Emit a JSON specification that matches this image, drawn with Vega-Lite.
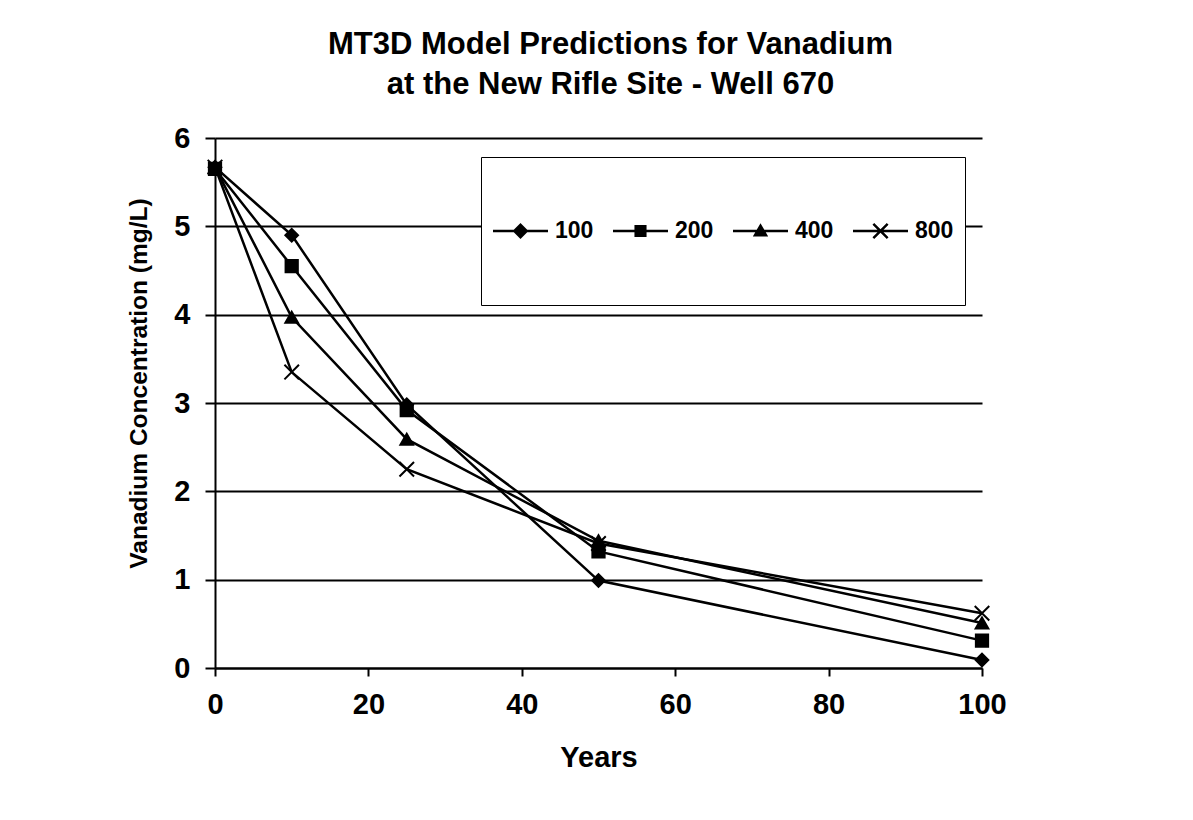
{
  "$schema": "https://vega.github.io/schema/vega-lite/v6.json",
  "width": 767,
  "height": 530,
  "autosize": {"type": "none"},
  "padding": {"left": 215, "top": 138, "right": 211, "bottom": 152},
  "background": "white",
  "title": {
    "text": ["MT3D Model Predictions for Vanadium", "at the New Rifle Site - Well 670"],
    "font": "Liberation Sans",
    "fontSize": 31,
    "fontWeight": "bold",
    "color": "black",
    "anchor": "middle",
    "frame": "group",
    "lineHeight": 40,
    "offset": 23,
    "dx": 12
  },
  "data": {
    "values": [
      {"series": "100", "years": 0, "conc": 5.67},
      {"series": "100", "years": 10, "conc": 4.9},
      {"series": "100", "years": 25, "conc": 2.98},
      {"series": "100", "years": 50, "conc": 0.99},
      {"series": "100", "years": 100, "conc": 0.09},
      {"series": "200", "years": 0, "conc": 5.65},
      {"series": "200", "years": 10, "conc": 4.55},
      {"series": "200", "years": 25, "conc": 2.92},
      {"series": "200", "years": 50, "conc": 1.32},
      {"series": "200", "years": 100, "conc": 0.31},
      {"series": "400", "years": 0, "conc": 5.67},
      {"series": "400", "years": 10, "conc": 3.97},
      {"series": "400", "years": 25, "conc": 2.59},
      {"series": "400", "years": 50, "conc": 1.44},
      {"series": "400", "years": 100, "conc": 0.51},
      {"series": "800", "years": 0, "conc": 5.67},
      {"series": "800", "years": 10, "conc": 3.35},
      {"series": "800", "years": 25, "conc": 2.25},
      {"series": "800", "years": 50, "conc": 1.41},
      {"series": "800", "years": 100, "conc": 0.62}
    ]
  },
  "encoding": {
    "x": {
      "field": "years",
      "type": "quantitative",
      "scale": {"domain": [0, 100], "nice": false},
      "axis": {
        "values": [0, 20, 40, 60, 80, 100],
        "grid": false,
        "title": "Years",
        "titleFontSize": 29,
        "labelPadding": 14,
        "titlePadding": 24,
        "labelFlush": false,
        "labelOverlap": false
      }
    },
    "y": {
      "field": "conc",
      "type": "quantitative",
      "scale": {"domain": [0, 6], "nice": false},
      "axis": {
        "values": [0, 1, 2, 3, 4, 5, 6],
        "grid": true,
        "title": "Vanadium Concentration (mg/L)",
        "titleFontSize": 24.5,
        "titleX": -76,
        "titleY": 245,
        "titleAlign": "center",
        "titleBaseline": "middle",
        "labelPadding": 15,
        "tickSize": 10,
        "labelFlush": false,
        "labelOverlap": false
      }
    }
  },
  "layer": [
    {
      "mark": {"type": "line", "color": "black", "strokeWidth": 2.5},
      "encoding": {"detail": {"field": "series", "type": "nominal"}}
    },
    {
      "transform": [{"filter": "datum.series == '100'"}],
      "mark": {"type": "point", "shape": "diamond", "filled": true, "color": "black", "stroke": "black", "strokeWidth": 2, "size": 160, "opacity": 1}
    },
    {
      "transform": [{"filter": "datum.series == '200'"}],
      "mark": {"type": "point", "shape": "square", "filled": true, "color": "black", "stroke": "black", "strokeWidth": 2, "size": 150, "opacity": 1}
    },
    {
      "transform": [{"filter": "datum.series == '400'"}],
      "mark": {"type": "point", "shape": "triangle-up", "filled": true, "color": "black", "stroke": "black", "strokeWidth": 2, "size": 160, "opacity": 1}
    },
    {
      "transform": [{"filter": "datum.series == '800'"}],
      "mark": {"type": "point", "shape": "M-1.15,-1.15L1.15,1.15M-1.15,1.15L1.15,-1.15", "filled": false, "color": "black", "strokeWidth": 2, "size": 160, "opacity": 1}
    },
    {
      "transform": [{"filter": "datum.years < 0"}],
      "mark": {"type": "point", "filled": true, "color": "black", "opacity": 1},
      "encoding": {
        "shape": {
          "field": "series",
          "type": "nominal",
          "scale": {
            "domain": ["100", "200", "400", "800"],
            "range": [
              "M-1,-0.045H1V0.045H-1ZM0,-0.29L0.29,0L0,0.29L-0.29,0Z",
              "M-1,-0.045H1V0.045H-1ZM-0.22,-0.22H0.22V0.22H-0.22Z",
              "M-1,-0.045H1V0.045H-1ZM0,-0.28L0.28,0.2H-0.28Z",
              "M-1,-0.045H1V0.045H-1ZM-0.228,-0.292L0.292,0.228L0.228,0.292L-0.292,-0.228ZM-0.228,0.292L-0.292,0.228L0.228,-0.292L0.292,-0.228Z"
            ]
          },
          "legend": {
            "orient": "none",
            "legendX": 266,
            "legendY": 19,
            "direction": "horizontal",
            "title": null,
            "padding": 11,
            "strokeColor": "black",
            "fillColor": "white",
            "clipHeight": 126,
            "symbolSize": 3025,
            "symbolFillColor": "black",
            "symbolOpacity": 1,
            "labelFont": "Liberation Sans",
            "labelFontSize": 23,
            "labelFontWeight": "bold",
            "labelColor": "black",
            "labelOffset": 6,
            "columnPadding": 18
          }
        }
      }
    }
  ],
  "config": {
    "view": {"stroke": null},
    "font": "Liberation Sans",
    "axis": {
      "domainColor": "black",
      "domainWidth": 2,
      "tickColor": "black",
      "tickWidth": 2,
      "tickSize": 8,
      "labelFont": "Liberation Sans",
      "labelFontWeight": "bold",
      "labelFontSize": 29,
      "labelColor": "black",
      "titleFont": "Liberation Sans",
      "titleFontWeight": "bold",
      "titleFontSize": 25,
      "titleColor": "black",
      "gridColor": "black",
      "gridWidth": 2,
      "gridOpacity": 1
    }
  }
}
